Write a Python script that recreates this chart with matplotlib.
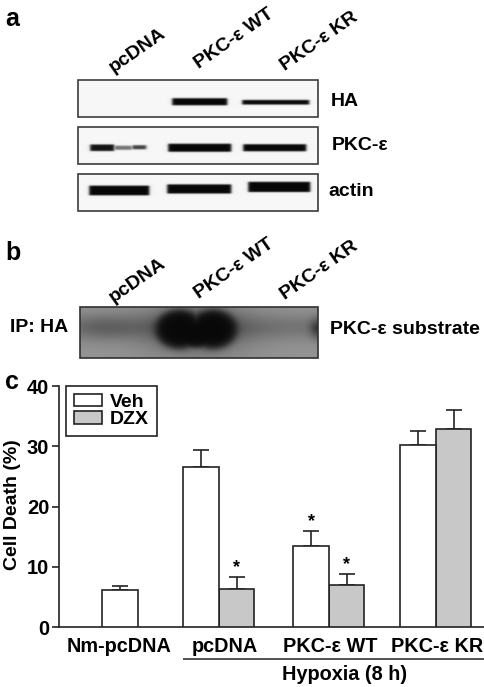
import numpy as np
import matplotlib
matplotlib.use("Agg")
import matplotlib.pyplot as plt
from matplotlib.patches import Rectangle

plt.rcParams['font.family'] = ['Liberation Sans', 'DejaVu Sans']
plt.rcParams['font.weight'] = 'bold'
plt.rcParams['axes.labelweight'] = 'bold'

# ---- data: bar chart (panel c)
groups = ['Nm-pcDNA', 'pcDNA', 'PKC-ε WT', 'PKC-ε KR']
veh_values = [6.2, 26.5, 13.5, 30.2]
veh_tops = [6.9, 29.4, 16.0, 32.6]
dzx_values = [None, 6.3, 7.0, 32.8]
dzx_tops = [None, 8.4, 8.9, 36.0]
y_ticks = [0, 10, 20, 30, 40]
lane_labels = ['pcDNA', 'PKC-ε WT', 'PKC-ε KR']

# ---- blot bands: x0, x1, y, thickness, darkness (pixels of the picture)
ha_bands = [(172, 227, 101.5, 7.0, 1.0), (242, 309, 102, 4.5, 1.0)]
pkc_bands = [(90, 114, 147.5, 6.5, 0.95), (114, 132, 147.5, 4.0, 0.55), (132, 146, 147, 4.0, 0.75),
             (168, 231, 147.5, 8.0, 1.0), (243, 306, 147.5, 7.0, 1.0)]
actin_bands = [(89, 149, 190.5, 9.5, 1.0), (167, 231, 189, 9.0, 1.0),
               (248, 310, 187, 10.0, 1.0)]
sub_blobs = [(179, 329, 23, 19, 1.0), (213, 329, 23, 19, 1.0),
             (196, 333, 30, 14, 1.0)]

fig = plt.figure(figsize=(4.85, 6.87), dpi=100)
ov = fig.add_axes([0, 0, 1, 1])
ov.set_xlim(0, 485)
ov.set_ylim(687, 0)
ov.axis('off')


def box(v, a, b, s):
    return 0.5 * (np.tanh((v - a) / s) - np.tanh((v - b) / s))


def blot(x0, x1, y0, y1, bands):
    xs = np.arange(x0, x1, 0.5)
    ys = np.arange(y0, y1, 0.5)
    X, Y = np.meshgrid(xs, ys)
    dark = np.zeros_like(X)
    for a, b, yc, t, d in bands:
        dark = np.maximum(dark, d * box(X, a, b, 1.5) * box(Y, yc - t / 2, yc + t / 2, 0.7))
    img = 0.965 * (1 - dark) + 0.03 * dark
    ov.imshow(img, cmap='gray', vmin=0, vmax=1, extent=(x0, x1, y1, y0),
              aspect='auto', zorder=1, interpolation='bilinear')
    ov.add_patch(Rectangle((x0, y0), x1 - x0, y1 - y0, fill=False, ec='#3c3c3c', lw=1.2, zorder=2))


blot(78, 318, 80, 117, ha_bands)
blot(78, 318, 127, 164, pkc_bands)
blot(78, 318, 173.5, 211, actin_bands)

# panel b autoradiograph
x0, x1, y0, y1 = 80, 318, 307, 358
X, Y = np.meshgrid(np.arange(x0, x1, 0.5), np.arange(y0, y1, 0.5))
base = 0.58 - 0.20 * np.exp(-((Y - 327) / 13) ** 2) * (0.6 + 0.4 * np.exp(-((X - 105) / 30) ** 2))
base += 0.03 * np.sin(X * 2.3 + Y * 1.7) * np.sin(Y * 2.9 - X * 0.9)
base = base - 0.25 * np.exp(-((X - 318) / 8) ** 2 - ((Y - 328) / 10) ** 2)
base = base - 0.22 * np.exp(-((X - 196) / 50) ** 2 - ((Y - 329) / 26) ** 2)
dark = np.zeros_like(X)
for cx, cy, sx, sy, d in sub_blobs:
    r = ((X - cx) / sx) ** 2 + ((Y - cy) / sy) ** 2
    dark = np.maximum(dark, d * (1 - np.tanh((r - 1) * 2.2)) / 2)
img = base * (1 - dark) + 0.03 * dark
ov.imshow(img, cmap='gray', vmin=0, vmax=1, extent=(x0, x1, y1, y0),
          aspect='auto', zorder=1, interpolation='bilinear')
ov.add_patch(Rectangle((x0, y0), x1 - x0, y1 - y0, fill=False, ec='#303030', lw=1.2, zorder=2))
ov.set_xlim(0, 485)
ov.set_ylim(687, 0)

# texts around the blots
FS = 14
ov.text(5, 19, 'a', fontsize=18, ha='left', va='center')
ov.text(5, 253, 'b', fontsize=18, ha='left', va='center')
ov.text(5, 382, 'c', fontsize=18, ha='left', va='center')
for lbl, cx, cy_a, cy_b in zip(lane_labels, [137, 234, 319], [50, 39, 42], [280, 269, 271]):
    ov.text(cx, cy_a, lbl, fontsize=FS, rotation=35, ha='center', va='center', rotation_mode='anchor')
    ov.text(cx, cy_b, lbl, fontsize=FS, rotation=35, ha='center', va='center', rotation_mode='anchor')
ov.text(331, 101, 'HA', fontsize=FS, va='center')
ov.text(332, 145, 'PKC-ε', fontsize=FS, va='center')
ov.text(328, 191, 'actin', fontsize=FS, va='center')
ov.text(10, 328, 'IP: HA', fontsize=FS, va='center')
ov.text(330, 329, 'PKC-ε substrate', fontsize=FS, va='center')

# ---- panel c
AX_L, AX_R, AX_TOP, AX_BOT = 59, 484, 386, 627.3
ax = fig.add_axes([AX_L / 485, 1 - AX_BOT / 687, (AX_R - AX_L) / 485, (AX_BOT - AX_TOP) / 687])
ax.patch.set_alpha(0)
ax.set_xlim(AX_L, AX_R)
ax.set_ylim(0, 40)
centers = [120, 219, 329, 436]
label_centers = [119, 225, 330, 437]
W = 35.5
edge = '#222222'
err = dict(ecolor=edge, elinewidth=1.2, capsize=6, capthick=1.2)
for i, c in enumerate(centers):
    if dzx_values[i] is None:
        pos_v = c
    else:
        pos_v = c - W / 2
        pos_d = c + W / 2
        ax.bar(pos_d, dzx_values[i], W, color='#c8c8c8', edgecolor=edge, lw=1.2, zorder=3,
               label='DZX' if i == 1 else None)
        ax.errorbar(pos_d, dzx_values[i], yerr=[[0], [dzx_tops[i] - dzx_values[i]]], zorder=2, **err)
    ax.bar(pos_v, veh_values[i], W, color='white', edgecolor=edge, lw=1.2, zorder=3,
           label='Veh' if i == 0 else None)
    ax.errorbar(pos_v, veh_values[i], yerr=[[0], [veh_tops[i] - veh_values[i]]], zorder=2, **err)

# significance stars
for i, vals in [(1, dzx_tops), (2, veh_tops), (2, dzx_tops)]:
    pos = centers[i] + (W / 2 if vals is dzx_tops else -W / 2)
    ax.text(pos, vals[i] + 0.05, '*', fontsize=13, ha='center', va='bottom')

for s in ['top', 'right']:
    ax.spines[s].set_visible(False)
for s in ['left', 'bottom']:
    ax.spines[s].set_linewidth(1.2)
    ax.spines[s].set_color(edge)
ax.set_yticks(y_ticks)
ax.tick_params(axis='y', length=5, width=1.2, color=edge, labelsize=14.5, pad=2)
ax.set_xticks(label_centers)
ax.set_xticklabels(groups, fontsize=14.3)
ax.tick_params(axis='x', length=0, pad=7)
ax.set_ylabel('Cell Death (%)', fontsize=14, va='center')
ax.yaxis.set_label_coords((12.5 - AX_L) / (AX_R - AX_L), (627.3 - 505) / (AX_BOT - AX_TOP))

handles, labels = ax.get_legend_handles_labels()
order = [labels.index('Veh'), labels.index('DZX')]
leg = ax.legend([handles[k] for k in order], [labels[k] for k in order], loc='upper left',
                bbox_to_anchor=((66 - AX_L) / (AX_R - AX_L), 1.0), fontsize=14, fancybox=False,
                edgecolor=edge, framealpha=1, borderaxespad=0, handlelength=1.45, handleheight=0.62,
                labelspacing=0.0, handletextpad=0.42, borderpad=0.4)
leg.get_frame().set_linewidth(1.2)

# hypoxia bracket
ov.plot([183, 484], [659, 659], color=edge, lw=1.1, solid_capstyle='butt')
ov.text(345, 675, 'Hypoxia (8 h)', fontsize=14.3, ha='center', va='center')
ov.set_xlim(0, 485)
ov.set_ylim(687, 0)

fig.savefig('out.png', dpi=100)
